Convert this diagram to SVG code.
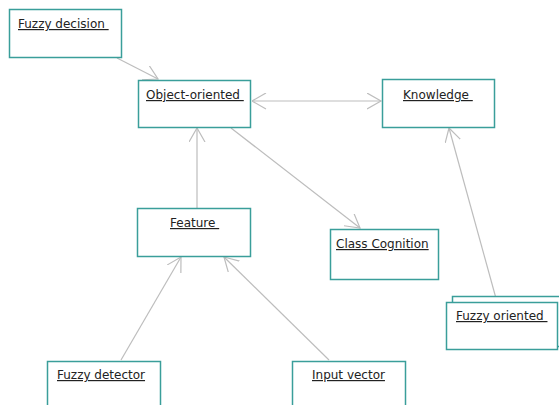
<svg xmlns="http://www.w3.org/2000/svg" width="559" height="405" viewBox="0 0 559 405">
<style>
.box{fill:#fff;stroke:#3a9e9a;stroke-width:1.5}
.lbl{font-family:"DejaVu Sans",Verdana,sans-serif;font-size:12px;fill:#222;text-decoration:underline;white-space:pre}
.c{stroke:#bdbdbd;stroke-width:1.2;fill:none}
</style>
<defs>
<marker id="open" markerWidth="16" markerHeight="18" refX="14" refY="8" orient="auto" markerUnits="userSpaceOnUse">
<path d="M0,0 L14,8 L0,16" fill="none" stroke="#bdbdbd" stroke-width="1.2"/>
</marker>
<marker id="openS" markerWidth="16" markerHeight="18" refX="0" refY="8" orient="auto" markerUnits="userSpaceOnUse">
<path d="M14,0 L0,8 L14,16" fill="none" stroke="#bdbdbd" stroke-width="1.2"/>
</marker>
</defs>
<rect width="559" height="405" fill="#fff"/>
<g id="connectors">
<line class="c" x1="117" y1="58" x2="158" y2="79" marker-end="url(#open)"/>
<line class="c" x1="252" y1="101" x2="381" y2="101" marker-start="url(#openS)" marker-end="url(#open)"/>
<line class="c" x1="197" y1="208" x2="197" y2="128" marker-end="url(#open)"/>
<line class="c" x1="231" y1="128" x2="360" y2="228" marker-end="url(#open)"/>
<line class="c" x1="497" y1="302" x2="449" y2="128" marker-end="url(#open)"/>
<line class="c" x1="121" y1="360" x2="181" y2="257" marker-end="url(#open)"/>
<line class="c" x1="329" y1="360" x2="224" y2="257" marker-end="url(#open)"/>
</g>
<g id="fuzzy-decision">
<rect class="box" x="9.5" y="9.5" width="112" height="48"/>
<text class="lbl" x="18" y="28">Fuzzy decision </text>
</g>
<g id="object-oriented">
<rect class="box" x="138.5" y="80.5" width="112" height="47"/>
<text class="lbl" x="146" y="99">Object-oriented </text>
</g>
<g id="knowledge">
<rect class="box" x="382.5" y="79.5" width="112" height="48"/>
<text class="lbl" x="403" y="99">Knowledge </text>
</g>
<g id="feature">
<rect class="box" x="137.5" y="208.5" width="113" height="48"/>
<text class="lbl" x="170" y="227">Feature </text>
</g>
<g id="class-cognition">
<rect class="box" x="330.5" y="229.5" width="108" height="50"/>
<text class="lbl" x="336" y="248">Class Cognition</text>
</g>
<g id="fuzzy-oriented">
<rect class="box" x="452.5" y="296.5" width="110" height="50"/>
<rect class="box" x="446.5" y="302.5" width="111" height="47"/>
<text class="lbl" x="456" y="320">Fuzzy oriented </text>
</g>
<g id="fuzzy-detector">
<rect class="box" x="47.5" y="361.5" width="113" height="50"/>
<text class="lbl" x="57" y="379">Fuzzy detector</text>
</g>
<g id="input-vector">
<rect class="box" x="292.5" y="361.5" width="113" height="50"/>
<text class="lbl" x="312" y="379">Input vector</text>
</g>
</svg>
